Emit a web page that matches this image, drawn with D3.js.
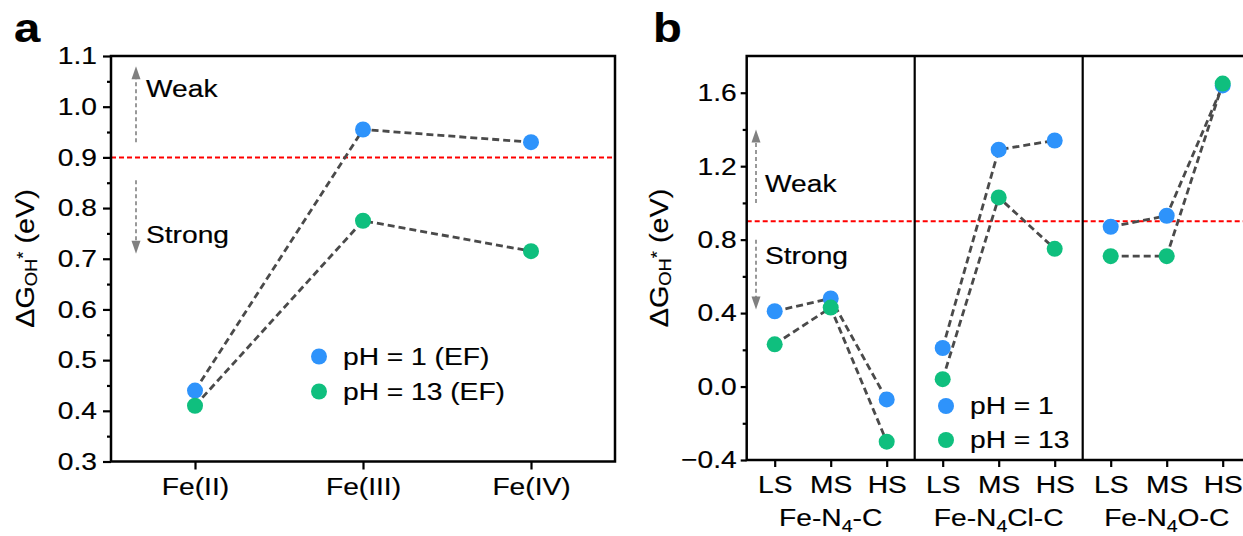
<!DOCTYPE html>
<html>
<head>
<meta charset="utf-8">
<script src="https://cdn.jsdelivr.net/npm/d3@7"></script>
<style>
  body { margin: 0; background: #fff; }
  text { font-family: "Liberation Sans", Arial, sans-serif; stroke: #000; stroke-width: 0.18px; }
</style>
</head>
<body>
<div id="chart"></div>
<script>
const width = 1243;
const height = 536;

// panel a: OH* binding vs. Fe oxidation state
const oxStates = ["Fe(II)", "Fe(III)", "Fe(IV)"];
const ph1A = [0.44, 0.955, 0.93];
const ph13A = [0.41, 0.775, 0.715];
const yTicksA = [0.3, 0.4, 0.5, 0.6, 0.7, 0.8, 0.9, 1.0, 1.1];
const yMinorA = [0.35, 0.45, 0.55, 0.65, 0.75, 0.85, 0.95, 1.05];
const legendA = ["pH = 1 (EF)", "pH = 13 (EF)"];

// panel b: spin states per site
const sites = [["Fe-N", "4", "-C"], ["Fe-N", "4", "Cl-C"], ["Fe-N", "4", "O-C"]];
const spins = ["LS", "MS", "HS"];
const ph1B = [[0.41, 0.48, -0.07], [0.21, 1.29, 1.34], [0.87, 0.93, 1.64]];
const ph13B = [[0.23, 0.43, -0.30], [0.04, 1.03, 0.75], [0.71, 0.71, 1.65]];
const yTicksB = [-0.4, 0.0, 0.4, 0.8, 1.2, 1.6];
const yMinorB = [-0.2, 0.2, 0.6, 1.0, 1.4];
const legendB = ["pH = 1", "pH = 13"];

const threshold = 0.9;

const blue = "#2e93fb";
const green = "#0fbf7e";
const SX = 1.15;   // the original font runs wide
const fs = 24.5;

const svg = d3.select("#chart")
  .append("svg")
    .attr("width", width)
    .attr("height", height);

// stretch text horizontally around its own anchor
function stretch(sel) {
  sel.each(function() {
    const t = d3.select(this);
    const x = +t.attr("x") || 0;
    const y = +t.attr("y") || 0;
    const prev = t.attr("transform") || "";
    t.attr("transform", `${prev} translate(${x},${y}) scale(${SX},1) translate(${-x},${-y})`);
  });
}

function styleAxis(g) {
  g.attr("font-size", fs).attr("font-family", null);
  g.select(".domain").remove();
  g.selectAll(".tick line").attr("stroke", "#000").attr("stroke-width", 2.2);
  g.selectAll(".tick text").attr("fill", "#000").call(stretch);
}

function yLabel(x, y) {
  const t = svg.append("text")
    .attr("transform", `translate(${x},${y}) rotate(-90) scale(${SX},1)`)
    .attr("text-anchor", "middle")
    .attr("font-size", 25)
    .attr("fill", "#000");
  t.append("tspan").text("ΔG");
  t.append("tspan").attr("font-size", 16).attr("dy", 3).text("OH");
  t.append("tspan").attr("font-size", 16).attr("dy", -8).text("*");
  t.append("tspan").attr("dy", 5).text(" (eV)");
}

function arrow(x, y0, y1) {
  const dir = y1 < y0 ? 1 : -1;
  svg.append("line")
    .attr("x1", x).attr("x2", x)
    .attr("y1", y0).attr("y2", y1 + dir * 9)
    .attr("stroke", "#808080")
    .attr("stroke-width", 1.6)
    .attr("stroke-dasharray", "4,3");
  svg.append("path")
    .attr("d", `M${x},${y1} L${x - 4.5},${y1 + dir * 13} L${x + 4.5},${y1 + dir * 13} Z`)
    .attr("fill", "#808080");
}

function note(x, y, s) {
  svg.append("text")
    .attr("x", x).attr("y", y)
    .attr("font-size", fs)
    .attr("fill", "#000")
    .text(s)
    .call(stretch);
}

function legend(x, y0, gap, labels) {
  labels.forEach((s, i) => {
    svg.append("circle")
      .attr("cx", x).attr("cy", y0 + i * gap).attr("r", 8)
      .attr("fill", i === 0 ? blue : green);
    note(x + 24, y0 + i * gap + 8.5, s);
  });
}

function series(xs, ys, vals) {
  svg.append("path")
    .datum(vals)
    .attr("fill", "none")
    .attr("stroke", "#4a4a4a")
    .attr("stroke-width", 2.8)
    .attr("stroke-dasharray", "7,4")
    .attr("d", d3.line().x((d, i) => xs(i)).y(d => ys(d)));
}

function dots(xs, ys, vals, color) {
  svg.selectAll(null)
    .data(vals)
    .enter()
    .append("circle")
    .attr("cx", (d, i) => xs(i))
    .attr("cy", d => ys(d))
    .attr("r", 8)
    .attr("fill", color);
}

// ---------------- panel a ----------------
const xA = d3.scalePoint().domain(oxStates).range([111, 615]).padding(0.5);
const yA = d3.scaleLinear().domain([0.3, 1.1]).range([461.5, 56]);

svg.append("g").attr("transform", "translate(111,0)")
  .call(d3.axisLeft(yA).tickValues(yMinorA).tickSize(4).tickFormat(""))
  .call(styleAxis);
svg.append("g").attr("transform", "translate(111,0)")
  .call(d3.axisLeft(yA).tickValues(yTicksA).tickSize(8).tickPadding(6).tickFormat(d3.format(".1f")))
  .call(styleAxis);
svg.append("g").attr("transform", "translate(0,461.5)")
  .call(d3.axisBottom(xA).tickSize(8).tickPadding(8))
  .call(styleAxis);

svg.append("line")
  .attr("x1", 111).attr("x2", 615)
  .attr("y1", yA(threshold)).attr("y2", yA(threshold))
  .attr("stroke", "#ff0000").attr("stroke-width", 2).attr("stroke-dasharray", "5,3");

const xAi = i => xA(oxStates[i]);
series(xAi, yA, ph1A);
series(xAi, yA, ph13A);
dots(xAi, yA, ph1A, blue);
dots(xAi, yA, ph13A, green);

svg.append("rect")
  .attr("x", 111).attr("y", 56).attr("width", 504).attr("height", 405.5)
  .attr("fill", "none").attr("stroke", "#000").attr("stroke-width", 2.5);

arrow(136, yA(0.93), yA(1.08));
arrow(136, yA(0.855), yA(0.71));
note(146, 97, "Weak");
note(146, 243, "Strong");
legend(319, 356.5, 35, legendA);
yLabel(34, 258.5);

// ---------------- panel b ----------------
const xBand = d3.scaleBand().domain([0, 1, 2]).range([746.7, 746.7 + 504]);
const xSpin = d3.scalePoint().domain(spins).range([0, xBand.bandwidth()]).padding(0.5);
const yB = d3.scaleLinear().domain([-0.4, 1.8]).range([460, 56]);

svg.append("g").attr("transform", "translate(746.7,0)")
  .call(d3.axisLeft(yB).tickValues(yMinorB).tickSize(4).tickFormat(""))
  .call(styleAxis);
svg.append("g").attr("transform", "translate(746.7,0)")
  .call(d3.axisLeft(yB).tickValues(yTicksB).tickSize(6).tickPadding(4).tickFormat(d3.format(".1f")))
  .call(styleAxis);

svg.append("line")
  .attr("x1", 746.7).attr("x2", width)
  .attr("y1", yB(threshold)).attr("y2", yB(threshold))
  .attr("stroke", "#ff0000").attr("stroke-width", 2).attr("stroke-dasharray", "5,3");

sites.forEach((site, k) => {
  const x0 = xBand(k);
  svg.append("g").attr("transform", `translate(${x0},460)`)
    .call(d3.axisBottom(xSpin).tickSize(7).tickPadding(9))
    .call(styleAxis);

  const xs = i => x0 + xSpin(spins[i]);
  series(xs, yB, ph1B[k]);
  series(xs, yB, ph13B[k]);
  dots(xs, yB, ph1B[k], blue);
  dots(xs, yB, ph13B[k], green);

  const t = svg.append("text")
    .attr("x", x0 + xBand.bandwidth() / 2).attr("y", 526)
    .attr("text-anchor", "middle")
    .attr("font-size", fs)
    .attr("fill", "#000");
  t.append("tspan").text(site[0]);
  t.append("tspan").attr("font-size", 17).attr("dy", 6).text(site[1]);
  t.append("tspan").attr("dy", -6).text(site[2]);
  t.call(stretch);

  if (k > 0) {
    svg.append("line")
      .attr("x1", x0).attr("x2", x0).attr("y1", 56).attr("y2", 460)
      .attr("stroke", "#000").attr("stroke-width", 2.2);
  }
});

svg.append("rect")
  .attr("x", 746.7).attr("y", 56).attr("width", 504).attr("height", 404)
  .attr("fill", "none").attr("stroke", "#000").attr("stroke-width", 2.5);

arrow(756, yB(1.0), yB(1.4));
arrow(756, yB(0.8), yB(0.42));
note(765, 192, "Weak");
note(765, 264, "Strong");
legend(946, 406, 34, legendB);
yLabel(668, 258);

// panel letters
svg.append("text").attr("x", 14).attr("y", 42)
  .attr("font-size", 41).attr("font-weight", "bold").text("a").call(stretch);
svg.append("text").attr("x", 653).attr("y", 42)
  .attr("font-size", 41).attr("font-weight", "bold").text("b").call(stretch);
</script>
</body>
</html>
